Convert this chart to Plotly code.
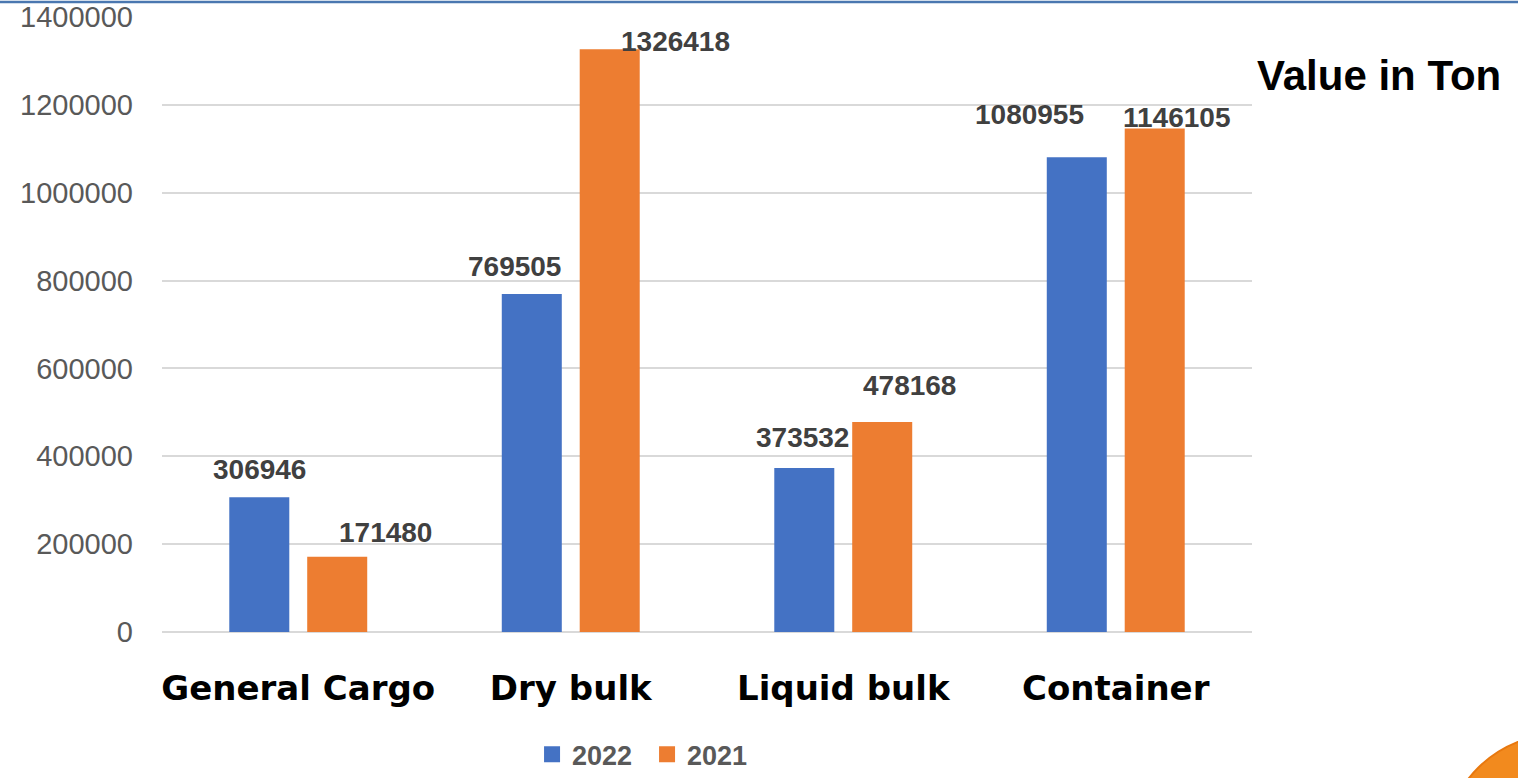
import plotly.graph_objects as go

categories = ["General Cargo", "Dry bulk", "Liquid bulk", "Container"]
values_2022 = [306946, 769505, 373532, 1080955]
values_2021 = [171480, 1326418, 478168, 1146105]
tick_vals = [0, 200000, 400000, 600000, 800000, 1000000, 1200000, 1400000]
series_names = ["2022", "2021"]

# label offsets (styling) in pixels, as placed in the original
shift_2022 = [(0, 28), (-17, 27), (-2, 30), (-47, 43)]
shift_2021 = [(48, 24), (66, 8), (27, 36), (22, 11)]

BLUE = "#4472C4"
ORANGE = "#ED7D31"
LABEL_FONT = dict(family="Liberation Sans", size=28, color="#404040", weight="bold")

fig = go.Figure()
fig.add_trace(go.Bar(name=series_names[0], x=categories, y=values_2022, marker_color=BLUE,
                     marker_line_width=0, showlegend=False))
fig.add_trace(go.Bar(name=series_names[1], x=categories, y=values_2021, marker_color=ORANGE,
                     marker_line_width=0, showlegend=False))
# legend entries with larger square keys
for name, col in zip(series_names, (BLUE, ORANGE)):
    fig.add_trace(go.Scatter(name=name, x=[None], y=[None], mode="markers",
                             marker=dict(symbol="square", size=18, color=col), showlegend=True))

annotations = []
for i, c in enumerate(categories):
    for vals, shifts, off in ((values_2022, shift_2022, -0.5), (values_2021, shift_2021, 0.5)):
        annotations.append(dict(
            x=i + off * 0.2862, y=vals[i], xref="x", yref="y", text=str(vals[i]),
            showarrow=False, font=LABEL_FONT, xshift=shifts[i][0], yshift=shifts[i][1],
            xanchor="center", yanchor="middle"))

annotations.append(dict(
    x=1, y=1, xref="paper", yref="paper", text="Value in Ton", showarrow=False,
    font=dict(family="Liberation Sans", size=42, color="#000000", weight="bold"),
    xanchor="left", yanchor="middle", xshift=3, yshift=-58))

fig.update_layout(
    width=1518, height=778,
    margin=dict(l=162, r=266, t=17, b=146, autoexpand=False),
    paper_bgcolor="white", plot_bgcolor="white",
    barmode="group", bargap=0.428, bargroupgap=0.23,
    showlegend=True,
    legend=dict(orientation="h", x=0.445, y=0.03, yref="container", xanchor="center", yanchor="middle",
                font=dict(family="Liberation Sans", size=27, color="#595959", weight="bold"),
                itemwidth=30, entrywidth=70, traceorder="normal", tracegroupgap=0),
    annotations=annotations,
    xaxis=dict(type="category", tickfont=dict(family="DejaVu Sans", size=34, color="#000000", weight="bold"),
               showgrid=False, showline=False, ticks="", ticklabelstandoff=33,
               range=[-0.5, 3.5], automargin=False),
    yaxis=dict(range=[0, 1400000], tickvals=tick_vals, ticktext=[str(v) for v in tick_vals],
               tickfont=dict(family="Liberation Sans", size=29, color="#595959"),
               showgrid=True, gridcolor="#D9D9D9", gridwidth=1.5, zeroline=True,
               zerolinecolor="#D9D9D9", zerolinewidth=2, showline=False, ticks="",
               ticklabelstandoff=28, automargin=False, ticklabeloverflow="allow"),
    shapes=[
        dict(type="line", xref="paper", yref="paper", xsizemode="pixel", ysizemode="pixel",
             xanchor=0, yanchor=1, x0=-170, x1=1400, y0=15, y1=15,
             line=dict(color="#4A77B0", width=2.5)),
        dict(type="circle", xref="paper", yref="paper", xsizemode="pixel", ysizemode="pixel",
             xanchor=1, yanchor=0, x0=192, x1=424, y0=-334, y1=-102,
             fillcolor="#F28A1E", line=dict(color="#E8780F", width=2)),
    ],
)

fig.write_html(
    "out.html",
    config={"displayModeBar": False},
    post_script="document.body.style.margin='0';document.documentElement.style.overflow='hidden';document.body.style.overflow='hidden';",
)
